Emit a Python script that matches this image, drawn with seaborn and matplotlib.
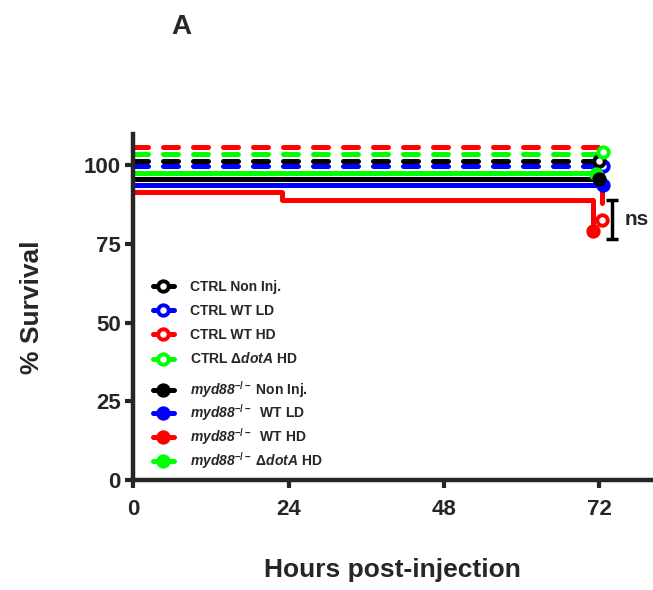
import matplotlib
matplotlib.use("Agg")
import matplotlib.pyplot as plt
import seaborn as sns
from matplotlib.lines import Line2D

# Survival curves (GraphPad-style offset so overlapping 100% curves stay visible)
labels = [
    "CTRL Non Inj.",
    "CTRL WT LD",
    "CTRL WT HD",
    r"CTRL $\Delta\mathbfit{dotA}$ HD",
    r"$\mathbfit{myd88}^{\mathrm{-/-}}$ Non Inj.",
    r"$\mathbfit{myd88}^{\mathrm{-/-}}$  WT LD",
    r"$\mathbfit{myd88}^{\mathrm{-/-}}$  WT HD",
    r"$\mathbfit{myd88}^{\mathrm{-/-}}$ $\Delta\mathbfit{dotA}$ HD",
]
colors = ["#000000", "#0000FF", "#FF0000", "#00FF00",
          "#000000", "#0000FF", "#FF0000", "#00FF00"]
is_ctrl = [True, True, True, True, False, False, False, False]

times = [
    [0, 72],
    [0, 72.5],
    [0, 72.5],
    [0, 72.5],
    [0, 72],
    [0, 72.5],
    [0, 23, 71],
    [0, 71.5],
]
survival = [
    [101.4, 101.4],
    [99.7, 99.7],
    [105.7, 82.5],
    [103.5, 103.5],
    [95.6, 95.6],
    [93.7, 93.7],
    [91.4, 88.9, 79.0],
    [97.5, 97.5],
]
# censored end points
end_t = [72, 72.6, 72.5, 72.6, 72, 72.6, 71, 71.5]
end_s = [101.4, 99.7, 82.5, 104.0, 95.6, 93.5, 79.0, 97.0]

# significance bracket
ns_x = 74
ns_low, ns_high = 76.5, 88.9

xticks = [0, 24, 48, 72]
yticks = [0, 25, 50, 75, 100]

sns.set_style("ticks")
plt.rcParams["font.family"] = ["Liberation Sans", "DejaVu Sans"]
plt.rcParams["font.weight"] = "bold"
plt.rcParams["mathtext.fontset"] = "custom"
plt.rcParams["mathtext.rm"] = "Liberation Sans:bold"
plt.rcParams["mathtext.it"] = "Liberation Sans:italic:bold"
plt.rcParams["mathtext.bf"] = "Liberation Sans:bold"
plt.rcParams["mathtext.bfit"] = "Liberation Sans:italic:bold"

fig = plt.figure(figsize=(6.53, 5.9), dpi=100)
ax = fig.add_axes([0.2044, 0.1864, 0.7921, 0.5873])

lw = 3.6
draw_order = [1, 0, 3, 2, 7, 5, 4, 6]
for i in draw_order:
    ls = (0, (3, 3)) if is_ctrl[i] else "-"
    sns.lineplot(x=times[i], y=survival[i], ax=ax, color=colors[i],
                 linewidth=lw, linestyle=ls, drawstyle="steps-post",
                 estimator=None, sort=False, dash_capstyle="round",
                 solid_capstyle="butt", legend=False)

for i in draw_order:
    face = "white" if is_ctrl[i] else colors[i]
    ax.plot(end_t[i], end_s[i], marker="o", markersize=7.5, mew=2.8,
            mfc=face, mec=colors[i], linestyle="none", clip_on=False, zorder=5)

ax.errorbar(ns_x, (ns_low + ns_high) / 2, yerr=(ns_high - ns_low) / 2,
            color="black", elinewidth=2.5, capsize=4.5, capthick=2.5,
            fmt="none", clip_on=False)
ax.text(ns_x + 2.0, (ns_low + ns_high) / 2, "ns", fontsize=15,
        fontweight="bold", va="center", ha="left")

ax.set_xlim(0, 80)
ax.set_ylim(0, 110)
ax.set_xticks(xticks)
ax.set_yticks(yticks)
ax.tick_params(axis="both", width=3, length=6, labelsize=16)
ax.tick_params(axis="x", pad=8)
ax.tick_params(axis="y", pad=3)
for lab in ax.get_xticklabels() + ax.get_yticklabels():
    lab.set_fontweight("bold")
for side in ["top", "right"]:
    ax.spines[side].set_visible(False)
for side in ["left", "bottom"]:
    ax.spines[side].set_linewidth(3.2)

ax.set_xlabel("Hours post-injection", fontsize=19, fontweight="bold", labelpad=27)
ax.set_ylabel("% Survival", fontsize=19, fontweight="bold", labelpad=29)


def make_handles(idx):
    hs = []
    for i in idx:
        face = "white" if is_ctrl[i] else colors[i]
        hs.append(Line2D([0], [0], color=colors[i], linewidth=lw,
                         marker="o", markersize=7.5, mew=2.8,
                         mfc=face, mec=colors[i]))
    return hs


leg_kw = dict(loc="upper left", bbox_transform=fig.transFigure, frameon=False,
              fontsize=10, handlelength=1.5, handletextpad=1.2, borderpad=0,
              borderaxespad=0)
ctrl_idx = [0, 1, 2, 3]
ko_idx = [4, 5, 6, 7]
leg1 = ax.legend(make_handles(ctrl_idx), [labels[i] for i in ctrl_idx],
                 bbox_to_anchor=(0.234, 0.525), labelspacing=0.7, **leg_kw)
ax.add_artist(leg1)
leg2 = ax.legend(make_handles(ko_idx), [labels[i] for i in ko_idx],
                 bbox_to_anchor=(0.234, 0.358), labelspacing=0.2, **leg_kw)
for lg in (leg1, leg2):
    for t in lg.get_texts():
        t.set_fontweight("bold")

fig.text(0.277, 0.955, "A", fontsize=20, fontweight="bold",
         ha="center", va="center")

fig.savefig("out.png", dpi=100)
